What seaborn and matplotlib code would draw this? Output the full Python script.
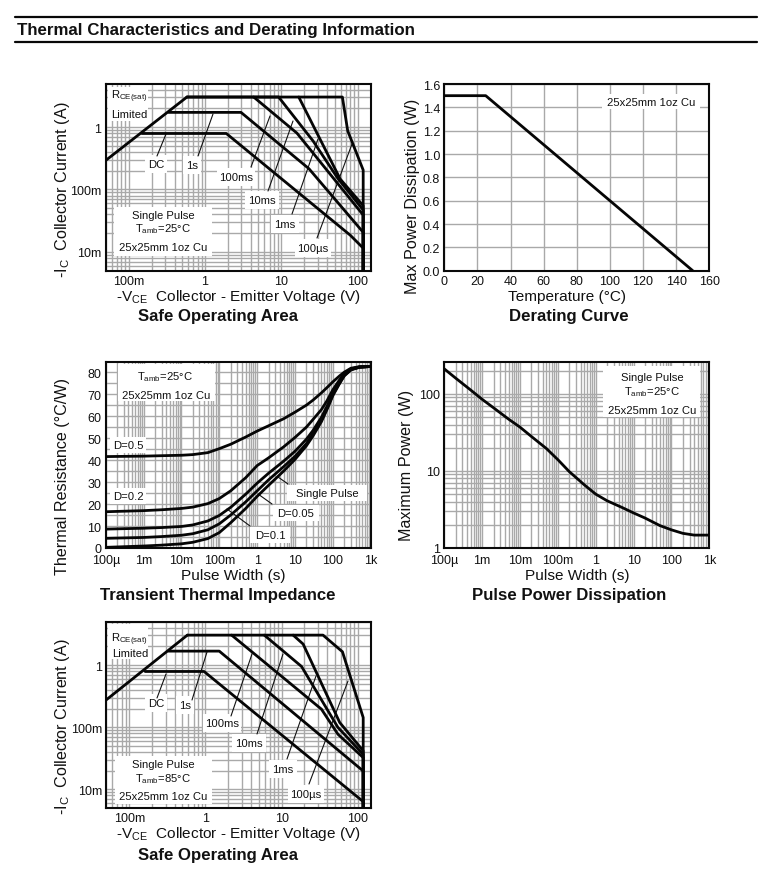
import numpy as np
import matplotlib
matplotlib.use("Agg")
import matplotlib.pyplot as plt
from matplotlib.patches import Rectangle
from matplotlib.ticker import LogLocator, NullFormatter
from matplotlib.transforms import Affine2D
import seaborn as sns

# ---------- data ----------
soa_x_ticks = [0.1, 1, 10, 100]
soa_x_labels = ["100m", "1", "10", "100"]
soa_y_ticks = [0.01, 0.1, 1]
soa_y_labels = ["10m", "100m", "1"]
soa25_rce_x = [0.05, 0.58]
soa25_rce_y = [0.292, 3.03]
soa25_dc_x = [0.149, 1.9, 80, 118, 118]
soa25_dc_y = [0.79, 0.79, 0.0185, 0.0115, 0.005]
soa25_1s_x = [0.333, 2.96, 23, 118, 118]
soa25_1s_y = [1.72, 1.72, 0.215, 0.0206, 0.005]
soa25_100ms_x = [4.34, 16, 118, 118]
soa25_100ms_y = [3.03, 0.8, 0.039, 0.005]
soa25_10ms_x = [0.58, 9.2, 26, 55, 118, 118]
soa25_10ms_y = [3.03, 3.03, 0.6, 0.15, 0.047, 0.005]
soa25_1ms_x = [16.9, 59, 118, 118]
soa25_1ms_y = [3.03, 0.147, 0.055, 0.005]
soa25_100us_x = [0.58, 63, 74, 118, 118]
soa25_100us_y = [3.03, 3.03, 0.87, 0.205, 0.005]

soa85_rce_x = [0.05, 0.58]
soa85_rce_y = [0.276, 3.04]
soa85_dc_x = [0.162, 0.96, 115, 118, 118]
soa85_dc_y = [0.79, 0.79, 0.0065, 0.0062, 0.005]
soa85_1s_x = [0.327, 1.52, 118, 118]
soa85_1s_y = [1.68, 1.68, 0.0197, 0.005]
soa85_100ms_x = [2.21, 33.4, 55, 118, 118]
soa85_100ms_y = [3.04, 0.195, 0.077, 0.0324, 0.005]
soa85_10ms_x = [5.93, 18.3, 55, 118, 118]
soa85_10ms_y = [3.04, 0.95, 0.099, 0.0366, 0.005]
soa85_1ms_x = [14.2, 19.2, 58, 118, 118]
soa85_1ms_y = [3.04, 2.18, 0.119, 0.0417, 0.005]
soa85_100us_x = [0.58, 35, 63, 118, 118]
soa85_100us_y = [3.04, 3.04, 1.64, 0.143, 0.005]

derate_temp = [0, 25, 150]
derate_power = [1.5, 1.5, 0.0]

pulse_ticks = [1e-4, 1e-3, 1e-2, 1e-1, 1, 10, 100, 1000]
pulse_labels = ["100µ", "1m", "10m", "100m", "1", "10", "100", "1k"]
pw = [1e-4, 1e-3, 3e-3, 1e-2, 2e-2, 5e-2, 0.1, 0.2, 0.5, 1, 2, 5, 10, 20, 30, 50, 70, 100, 150, 200, 300, 500, 1000]
z_d05 = [41.6, 41.8, 42.0, 42.2, 42.5, 43.4, 45.2, 47.2, 50.5, 53.2, 55.6, 58.8, 61.8, 65, 67.3, 70.6, 73, 75.6, 78.3, 80, 81.8, 82.5, 82.6]
z_d02 = [16.5, 17.0, 17.4, 18.0, 18.6, 20.2, 22.5, 26.0, 32, 37.5, 41, 46, 50.3, 55, 58.5, 63, 67, 72, 76.5, 79.3, 81.5, 82.4, 82.6]
z_d01 = [8.6, 9.0, 9.3, 9.8, 10.5, 12.3, 14.8, 18.5, 24.5, 29.5, 34, 39.5, 44, 49.5, 53.5, 59.5, 64.5, 70.5, 75.5, 78.8, 81.3, 82.3, 82.6]
z_d005 = [4.4, 4.8, 5.2, 5.8, 6.5, 8.3, 11, 15, 21, 26, 31, 37, 41.7, 47.5, 52, 58.3, 63.5, 69.8, 75, 78.5, 81.2, 82.3, 82.6]
z_single = [0.3, 0.9, 1.3, 1.9, 2.6, 4.3, 7, 11.5, 18, 23.5, 28.5, 35, 40.3, 46.5, 51, 57.5, 63, 69.3, 74.8, 78.3, 81, 82.2, 82.6]

pp_width = [1e-4, 2e-4, 5e-4, 1e-3, 2e-3, 5e-3, 1e-2, 2e-2, 5e-2, 0.1, 0.2, 0.5, 1, 2, 5, 10, 20, 50, 100, 200, 400, 1000]
pp_power = [211, 160, 112, 85, 66, 47, 37, 28, 19.5, 14, 9.8, 6.6, 5.0, 4.1, 3.35, 2.85, 2.45, 1.95, 1.72, 1.55, 1.47, 1.47]

# ---------- style ----------
sns.set_theme(style="white")
plt.rcParams["font.family"] = ["Liberation Sans", "DejaVu Sans"]
plt.rcParams["mathtext.fontset"] = "custom"
plt.rcParams["mathtext.rm"] = "Liberation Sans"
plt.rcParams["mathtext.default"] = "rm"

W, H = 775, 879
GRID = "#a9a9a9"
TICK_FS, XLAB_FS, YLAB_FS, TITLE_FS, NOTE_FS = 9, 11.1, 11.6, 12.1, 8.1
fig = plt.figure(figsize=(W / 100, H / 100), dpi=100, facecolor="white")
PX = Affine2D().scale(1, -1).translate(0, H)


def make_axes(l, t, r, b):
    return fig.add_axes([l / W, 1 - b / H, (r - l) / W, (b - t) / H])


def style(ax, xticks, xlabels, yticks, ylabels, xlog, ylog, xlim, ylim, xlab, ylab, title,
          xl_pos, yl_pos, t_pos, xpad=3):
    if xlog:
        ax.set_xscale("log")
        ax.xaxis.set_minor_locator(LogLocator(base=10, subs=range(2, 10), numticks=30))
        ax.xaxis.set_minor_formatter(NullFormatter())
    if ylog:
        ax.set_yscale("log")
        ax.yaxis.set_minor_locator(LogLocator(base=10, subs=range(2, 10), numticks=30))
        ax.yaxis.set_minor_formatter(NullFormatter())
    ax.set_xticks(xticks, xlabels)
    ax.set_yticks(yticks, ylabels)
    ax.set_xlim(*xlim)
    ax.set_ylim(*ylim)
    ax.grid(True, which="both", color=GRID, lw=1.0)
    ax.set_axisbelow(True)
    ax.tick_params(which="both", length=0)
    ax.tick_params(axis="x", which="major", labelsize=TICK_FS, pad=xpad, colors="#111111")
    ax.tick_params(axis="y", which="major", labelsize=TICK_FS, pad=3, colors="#111111")
    for s in ax.spines.values():
        s.set_visible(True)
        s.set_color("#0a0a0a")
        s.set_linewidth(1.5)
    ax.set_xlabel(xlab, fontsize=XLAB_FS, color="#111111", va="center")
    ax.xaxis.set_label_coords(*xl_pos, transform=PX)
    ax.set_ylabel(ylab, fontsize=YLAB_FS, color="#111111", va="center")
    ax.yaxis.set_label_coords(*yl_pos, transform=PX)
    fig.text(t_pos[0], t_pos[1], title, transform=PX, fontsize=TITLE_FS, fontweight="bold",
             ha="center", va="center", color="#111111")


def curve(ax, x, y, lw=2.0):
    sns.lineplot(x=x, y=y, ax=ax, color="#050505", lw=lw, sort=False, estimator=None,
                 errorbar=None, zorder=4, solid_joinstyle="round")


def box(ax, x0, y0, x1, y1):
    ax.add_patch(Rectangle((x0, y0), x1 - x0, y1 - y0, transform=PX, fc="white", ec="none", zorder=1.5))


def note(ax, x, y, s, ha="center", fs=NOTE_FS):
    ax.text(x, y, s, transform=PX, fontsize=fs, ha=ha, va="center", color="#111111", zorder=6)


def leader(ax, x0, y0, x1, y1):
    ax.plot([x0, x1], [y0, y1], transform=PX, color="#111111", lw=0.8, zorder=3, scalex=False, scaley=False)


# ---------- header ----------
for yy in (18.3, 42.7):
    fig.add_artist(plt.Line2D([15, 757], [yy, yy], transform=PX, color="#080808", lw=1.6))
fig.text(17, 31, "Thermal Characteristics and Derating Information", transform=PX,
         fontsize=12.2, fontweight="bold", ha="left", va="center", color="#111111")

IC = r"-I$_{\mathrm{C}}$  Collector Current (A)"
VCE = r"-V$_{\mathrm{CE}}$  Collector - Emitter Voltage (V)"
TAMB25 = r"T$_{\mathrm{amb}}$=25°C"
TAMB85 = r"T$_{\mathrm{amb}}$=85°C"
CU = "25x25mm 1oz Cu"
RCE = r"R$_{\mathrm{CE(sat)}}$"

# ---------- SOA 25 C ----------
ax1 = make_axes(105.7, 85, 370.7, 271.7)
style(ax1, soa_x_ticks, soa_x_labels, soa_y_ticks, soa_y_labels, True, True, (0.05, 148), (0.005, 4.9),
      VCE, IC, "Safe Operating Area", (238, 297), (63, 190), (218, 317))
for x, y in [(soa25_rce_x, soa25_rce_y), (soa25_dc_x, soa25_dc_y), (soa25_1s_x, soa25_1s_y),
             (soa25_100ms_x, soa25_100ms_y), (soa25_10ms_x, soa25_10ms_y),
             (soa25_1ms_x, soa25_1ms_y), (soa25_100us_x, soa25_100us_y)]:
    curve(ax1, x, y)
box(ax1, 114, 208, 212, 257)
box(ax1, 108, 88, 148, 122)
note(ax1, 111, 97, RCE, ha="left")
note(ax1, 129, 115, "Limited")
note(ax1, 163, 216, "Single Pulse")
note(ax1, 163, 229, TAMB25)
note(ax1, 163, 248, CU)
for (x0, y0, x1, y1, lx, ly, s, w) in [
    (166, 135, 157, 157, 156, 165, "DC", 11), (213, 115, 198, 157, 192, 166, "1s", 9),
    (270, 117, 251, 168, 236, 178, "100ms", 19), (293, 122, 268, 192, 262, 201, "10ms", 17),
    (318, 140, 292, 215, 285, 225, "1ms", 14), (352, 145, 317, 239, 313, 249, "100µs", 18)]:
    box(ax1, lx - w, ly - 9, lx + w, ly + 9)
    leader(ax1, x0, y0, x1, y1)
    note(ax1, lx, ly, s)

# ---------- Derating ----------
ax2 = make_axes(444.3, 85, 709.3, 271.7)
style(ax2, list(range(0, 161, 20)), [str(v) for v in range(0, 161, 20)],
      [i * 0.2 for i in range(9)], [f"{i * 0.2:.1f}" for i in range(9)], False, False, (0, 160), (0, 1.6),
      "Temperature (°C)", "Max Power Dissipation (W)", "Derating Curve", (567, 297), (413, 196), (569, 317))
curve(ax2, derate_temp, derate_power)
box(ax2, 602, 95, 700, 110)
note(ax2, 651, 103, CU)

# ---------- Transient thermal impedance ----------
ax3 = make_axes(105.7, 363.3, 370.7, 549)
style(ax3, pulse_ticks, pulse_labels, list(range(0, 81, 10)), [str(v) for v in range(0, 81, 10)],
      True, False, (1e-4, 1e3), (0, 84.5),
      "Pulse Width (s)", "Thermal Resistance (°C/W)", "Transient Thermal Impedance",
      (233, 576), (62, 477), (218, 596), xpad=4.5)
ax3.set_yticks(list(range(5, 85, 10)), minor=True)
for z in (z_d05, z_d02, z_d01, z_d005, z_single):
    curve(ax3, pw, z)
box(ax3, 118, 365, 215, 402)
note(ax3, 165, 377, TAMB25)
note(ax3, 166, 396, CU)
for (lx, ly, s, w) in [(128, 446, "D=0.5", 18), (128, 497, "D=0.2", 18), (327, 494, "Single Pulse", 40),
                       (296, 514, "D=0.05", 23), (270, 536, "D=0.1", 20)]:
    box(ax3, lx - w, ly - 8, lx + w, ly + 8)
    note(ax3, lx, ly, s)
leader(ax3, 278, 478, 288, 485)
leader(ax3, 258, 495, 272, 505)
leader(ax3, 227, 510, 250, 527)

# ---------- Pulse power ----------
ax4 = make_axes(444.3, 363.3, 709.3, 549)
style(ax4, pulse_ticks, pulse_labels, [1, 10, 100], ["1", "10", "100"], True, True, (1e-4, 1e3), (1, 257),
      "Pulse Width (s)", "Maximum Power (W)", "Pulse Power Dissipation", (577, 576), (407, 465), (569, 596), xpad=4.5)
curve(ax4, pp_width, pp_power)
box(ax4, 603, 367, 700, 418)
note(ax4, 652, 378, "Single Pulse")
note(ax4, 652, 392, TAMB25)
note(ax4, 652, 411, CU)

# ---------- SOA 85 C ----------
ax5 = make_axes(106.3, 622.7, 370.7, 809)
style(ax5, soa_x_ticks, soa_x_labels, soa_y_ticks, soa_y_labels, True, True, (0.05, 148), (0.005, 5),
      VCE, IC, "Safe Operating Area", (238, 834), (63, 727), (218, 856))
for x, y in [(soa85_rce_x, soa85_rce_y), (soa85_dc_x, soa85_dc_y), (soa85_1s_x, soa85_1s_y),
             (soa85_100ms_x, soa85_100ms_y), (soa85_10ms_x, soa85_10ms_y),
             (soa85_1ms_x, soa85_1ms_y), (soa85_100us_x, soa85_100us_y)]:
    curve(ax5, x, y)
box(ax5, 115, 757, 212, 805)
box(ax5, 108, 625, 148, 660)
note(ax5, 111, 640, RCE, ha="left")
note(ax5, 130, 654, "Limited")
note(ax5, 163, 765, "Single Pulse")
note(ax5, 163, 779, TAMB85)
note(ax5, 163, 797, CU)
for (x0, y0, x1, y1, lx, ly, s, w) in [
    (166, 675, 157, 699, 156, 704, "DC", 11), (207, 653, 192, 701, 185, 706, "1s", 9),
    (252, 655, 231, 717, 222, 724, "100ms", 19), (283, 655, 257, 735, 249, 744, "10ms", 17),
    (316, 677, 287, 760, 283, 770, "1ms", 14), (348, 682, 309, 785, 306, 795, "100µs", 18)]:
    box(ax5, lx - w, ly - 9, lx + w, ly + 9)
    leader(ax5, x0, y0, x1, y1)
    note(ax5, lx, ly, s)

fig.savefig("out.png", dpi=100, facecolor="white")
